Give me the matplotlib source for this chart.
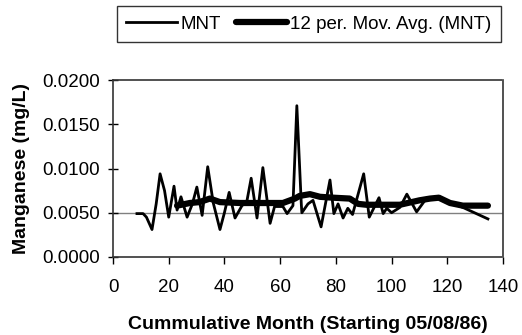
"""Manganese (MNT) with 12 period moving average."""
import matplotlib

matplotlib.use("Agg")
import matplotlib.pyplot as plt

plt.rcParams["font.family"] = ["Liberation Sans", "DejaVu Sans"]

# MNT (month, mg/L)
mnt_month = [8.6, 10.8, 12.0, 14.0, 15.5, 16.9, 18.5, 20.0, 21.9, 23.0,
             24.4, 26.6, 28.5, 30.1, 32.0, 34.0, 36.0, 38.4, 40.0, 41.7,
             43.8, 46.3, 48.0, 49.6, 51.7, 53.8, 56.4, 58.0, 61.0, 62.5,
             64.6, 66.0, 67.6, 67.8, 70.0, 71.8, 74.7, 77.9, 79.3, 80.8,
             82.6, 84.3, 86.0, 90.0, 92.0, 95.5, 97.0, 98.3, 100.0, 103.0,
             105.5, 109.0, 112.7, 117.4, 121.0, 125.6, 134.6]
mnt_value = [0.0049, 0.0049, 0.0045, 0.0031, 0.0060, 0.0094, 0.0075, 0.0045, 0.0080, 0.0053,
             0.0068, 0.0045, 0.0060, 0.0079, 0.0047, 0.0102, 0.0061, 0.0031, 0.0050, 0.0073,
             0.0044, 0.0058, 0.0062, 0.0089, 0.0044, 0.0101, 0.0038, 0.0057, 0.0057, 0.0049,
             0.0058, 0.0171, 0.0060, 0.0050, 0.0060, 0.0064, 0.0034, 0.0087, 0.0049, 0.0060,
             0.0044, 0.0055, 0.0048, 0.0094, 0.0045, 0.0067, 0.0049, 0.0055, 0.0050, 0.0056,
             0.0071, 0.0051, 0.0067, 0.0066, 0.0062, 0.0056, 0.0043]

# 12 per. moving average
ma_month = [23.0, 27.6, 31.0, 34.8, 38.4, 45.6, 55.0, 61.0, 65.3, 67.0,
            70.7, 74.3, 79.0, 85.0, 88.0, 91.0, 99.4, 103.0, 110.0, 113.8,
            117.0, 121.0, 125.6, 134.6]
ma_value = [0.0058, 0.0061, 0.0062, 0.0066, 0.0062, 0.0061, 0.0061, 0.0061, 0.0066, 0.0069,
            0.0071, 0.0068, 0.0067, 0.0066, 0.0060, 0.0059, 0.0059, 0.0059, 0.0064, 0.0066,
            0.0067, 0.0061, 0.0058, 0.0058]

x_ticks = [0, 20, 40, 60, 80, 100, 120, 140]
y_ticks = [0.0, 0.005, 0.010, 0.015, 0.020]

fig = plt.figure(figsize=(5.22, 3.35), dpi=100)
ax = fig.add_axes([0.2165, 0.233, 0.747, 0.528])

ax.axhline(0.005, color="#808080", lw=1.0, zorder=1)
l1, = ax.plot(mnt_month, mnt_value, color="black", lw=2.0,
              solid_joinstyle="round", zorder=3)
l2, = ax.plot(ma_month, ma_value, color="black", lw=4.5,
              solid_joinstyle="round", solid_capstyle="round", zorder=2)

ax.set_xlim(0, 140)
ax.set_ylim(0, 0.02)
ax.set_xticks(x_ticks)
ax.set_yticks(y_ticks)
ax.set_yticklabels([f"{v:.4f}" for v in y_ticks])
ax.tick_params(axis="both", labelsize=13.5, color="black", width=1)
ax.tick_params(axis="x", direction="out", length=5, pad=11)
ax.tick_params(axis="y", direction="inout", length=7, pad=6)

for side in ["left", "right", "top", "bottom"]:
    ax.spines[side].set_linestyle((0, (1, 1)))
    ax.spines[side].set_linewidth(1.2)
    ax.spines[side].set_color("#333333")

ax.set_xlabel("Cummulative Month (Starting 05/08/86)", fontsize=14,
              fontweight="bold", labelpad=14)
ax.set_ylabel("Manganese (mg/L)", fontsize=14, fontweight="bold", labelpad=9)

leg = fig.legend([l1, l2], ["MNT", "12 per. Mov. Avg. (MNT)"],
                 loc="center", bbox_to_anchor=(309 / 522, 1 - 24 / 335),
                 ncol=2, fontsize=13.5, frameon=True, fancybox=False,
                 handlelength=2.7, handletextpad=0.2, columnspacing=0.8,
                 borderpad=0.5, borderaxespad=0)
leg.get_frame().set_edgecolor("black")
leg.get_frame().set_linewidth(1.0)

fig.savefig("out.png", dpi=100)
